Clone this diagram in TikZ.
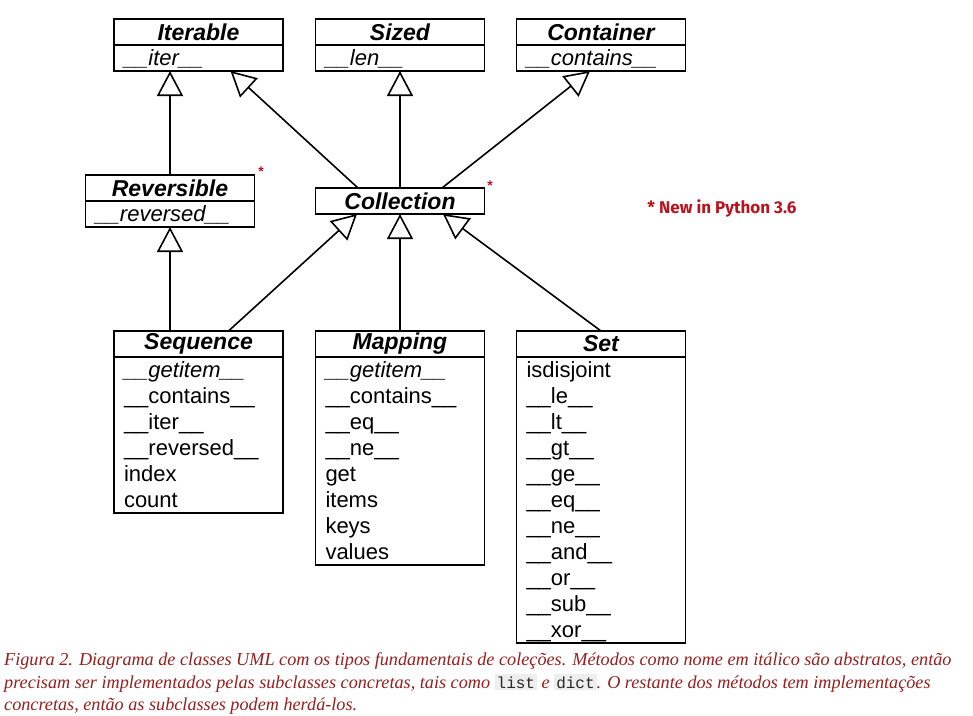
\documentclass[tikz,border=0pt]{standalone}
\usepackage{fontspec}
\setmainfont{Liberation Serif}
\newfontfamily\umlfont{Liberation Sans}
\newfontfamily\notefont{Fira Sans}
\newfontfamily\codefont{Liberation Mono}
\usetikzlibrary{positioning,arrows.meta}

\definecolor{notered}{RGB}{185,20,30}
\definecolor{capred}{RGB}{150,30,30}
\definecolor{codebg}{RGB}{238,238,238}

% one line of a class body
\newcommand{\mth}[1]{\rule[-6pt]{0pt}{26pt}{#1}}
\newcommand{\code}[1]{{\setlength{\fboxsep}{2pt}\colorbox{codebg}{\codefont\upshape\color{black!85}\fontsize{16}{18}\selectfont#1}}}

\tikzset{
  classhead/.style={draw, line width=1.7pt, minimum width=169pt, minimum height=26pt,
    inner sep=0pt, outer sep=0pt, font=\umlfont\bfseries\itshape\fontsize{23}{26}\selectfont},
  classbody/.style={draw, line width=1.7pt, text width=149pt, inner xsep=10pt,
    inner ysep=0pt, outer sep=0pt, align=left, font=\umlfont\fontsize{22}{26}\selectfont},
  inherit/.style={line width=1.6pt, -{Triangle[open, length=25pt, width=26pt]}},
  newmark/.style={text=notered, inner sep=0pt, font=\umlfont\bfseries\fontsize{14}{14}\selectfont},
  caption/.style={anchor=base west, inner sep=0pt, text=capred,
    font=\itshape\fontsize{18.2}{20}\selectfont}
}

\begin{document}
\begin{tikzpicture}[x=1pt, y=-1pt]
  \useasboundingbox (0,0) rectangle (973,715);

  % Top abstract classes
  \node[classhead] (iterable) at (198.5,32) {Iterable};
  \node[classbody, below=0pt of iterable] (iterablebody) {\mth{\itshape\_\_iter\_\_}};
  \node[classhead] (sized) at (400,32) {Sized};
  \node[classbody, below=0pt of sized] (sizedbody) {\mth{\itshape\_\_len\_\_}};
  \node[classhead] (container) at (601,32) {Container};
  \node[classbody, below=0pt of container] (containerbody) {\mth{\itshape\_\_contains\_\_}};

  % Middle layer
  \node[classhead] (reversible) at (170,188) {Reversible};
  \node[classbody, below=0pt of reversible] (reversiblebody) {\mth{\itshape\_\_reversed\_\_}};
  \node[classhead] (collection) at (400,201) {Collection};
  \node[newmark] (revstar) at (261,172) {*};
  \node[newmark] (colstar) at (490,186) {*};

  % Note
  \node[text=notered, font=\notefont\bfseries\fontsize{17}{20}\selectfont] (note) at (722,208) {* New in Python 3.6};

  % Bottom concrete-ish classes
  \node[classhead] (sequence) at (198.5,344) {Sequence};
  \node[classbody, below=0pt of sequence] (sequencebody) {%
    \mth{\itshape\_\_getitem\_\_}\\ \mth{\_\_contains\_\_}\\ \mth{\_\_iter\_\_}\\
    \mth{\_\_reversed\_\_}\\ \mth{index}\\ \mth{count}};
  \node[classhead] (mapping) at (400,344) {Mapping};
  \node[classbody, below=0pt of mapping] (mappingbody) {%
    \mth{\itshape\_\_getitem\_\_}\\ \mth{\_\_contains\_\_}\\ \mth{\_\_eq\_\_}\\
    \mth{\_\_ne\_\_}\\ \mth{get}\\ \mth{items}\\ \mth{keys}\\ \mth{values}};
  \node[classhead] (set) at (601,344) {Set};
  \node[classbody, below=0pt of set] (setbody) {%
    \mth{isdisjoint}\\ \mth{\_\_le\_\_}\\ \mth{\_\_lt\_\_}\\ \mth{\_\_gt\_\_}\\
    \mth{\_\_ge\_\_}\\ \mth{\_\_eq\_\_}\\ \mth{\_\_ne\_\_}\\ \mth{\_\_and\_\_}\\
    \mth{\_\_or\_\_}\\ \mth{\_\_sub\_\_}\\ \mth{\_\_xor\_\_}};

  % Inheritance arrows
  \draw[inherit] (reversible.north) -- (reversible.north |- iterablebody.south);
  \draw[inherit] ([xshift=-42pt]collection.north) -- ([xshift=32pt]iterablebody.south);
  \draw[inherit] (collection.north) -- (sizedbody.south);
  \draw[inherit] ([xshift=42pt]collection.north) -- ([xshift=-11pt]containerbody.south);
  \draw[inherit] (reversiblebody.south |- sequence.north) -- (reversiblebody.south);
  \draw[inherit] ([xshift=30pt]sequence.north) -- ([xshift=-43pt]collection.south);
  \draw[inherit] (mapping.north) -- (collection.south);
  \draw[inherit] (set.north) -- ([xshift=43pt]collection.south);

  % Caption
  \node[caption] (cap1) at (4,665) {Figura 2. Diagrama de classes UML com os tipos fundamentais de coleções. Métodos como nome em itálico são abstratos, então};
  \node[caption] (cap2) at (4,688) {precisam ser implementados pelas subclasses concretas, tais como \code{list} e \code{dict}. O restante dos métodos tem implementações};
  \node[caption] (cap3) at (4,710) {concretas, então as subclasses podem herdá-los.};
\end{tikzpicture}
\end{document}
